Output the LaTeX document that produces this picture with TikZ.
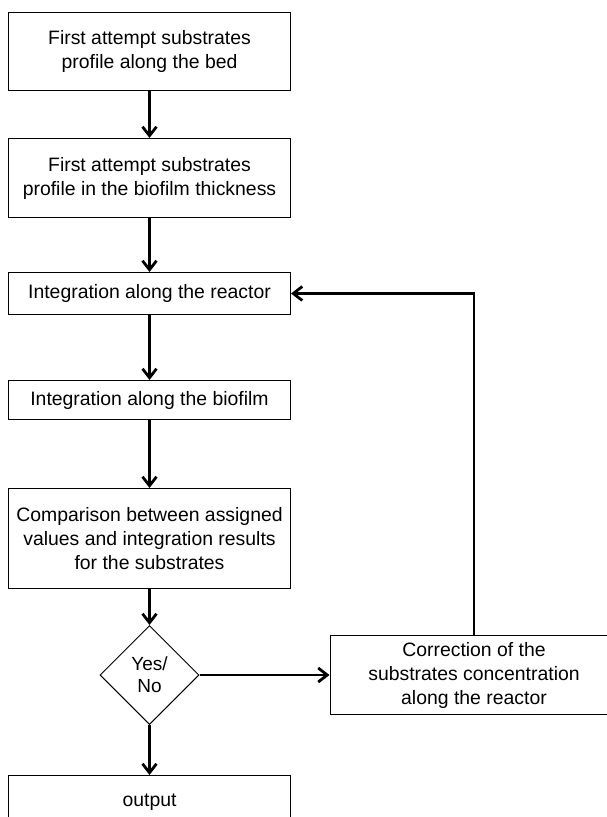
\documentclass[tikz,border=0pt]{standalone}
\usepackage{fontspec}
\setmainfont{Liberation Sans}
\usetikzlibrary{arrows.meta,positioning,shapes.geometric}

\begin{document}
\begin{tikzpicture}[
    node distance=24pt and 65pt,
    block/.style={rectangle, draw, line width=0.5pt, minimum width=141pt, align=center, font=\fontsize{9.7}{12}\selectfont},
    decision/.style={diamond, draw, line width=0.5pt, aspect=1, minimum width=49.5pt, minimum height=49.5pt, inner sep=0pt, align=center, font=\fontsize{9.5}{11}\selectfont},
    arrow/.style={-{Straight Barb[length=4.5pt, width=7pt]}, line width=1.4pt}
]
\useasboundingbox (0,0) rectangle (303pt,-408.5pt);

% Main chain
\node[block, minimum height=39pt, anchor=north west] (bed) at (4pt,-6pt) {First attempt substrates\\profile along the bed};
\node[block, minimum height=39.5pt, below=23.5pt of bed] (film) {First attempt substrates\\profile in the biofilm thickness};
\node[block, minimum height=21pt, below=27pt of film] (reactor) {Integration along the reactor};
\node[block, minimum height=19.5pt, below=32.5pt of reactor] (biofilm) {Integration along the biofilm};
\node[block, minimum height=50pt, below=34pt of biofilm] (compare) {Comparison between assigned\\values and integration results\\for the substrates};
\node[decision, below=18pt of compare] (check) {Yes/\\No};
\node[block, text height=12pt, text depth=20pt, below=25pt of check] (output) {output};

% Correction branch
\node[block, minimum height=39pt, minimum width=144pt, right=65pt of check] (correct) {Correction of the\\substrates concentration\\along the reactor};

% Arrows
\draw[arrow] (bed) -- (film);
\draw[arrow] (film) -- (reactor);
\draw[arrow] (reactor) -- (biofilm);
\draw[arrow] (biofilm) -- (compare);
\draw[arrow] (compare) -- (check);
\draw[arrow] (check) -- (output);
\draw[arrow] (check) -- (correct);
\draw[arrow] (correct.north) |- (reactor.east);
\end{tikzpicture}
\end{document}
